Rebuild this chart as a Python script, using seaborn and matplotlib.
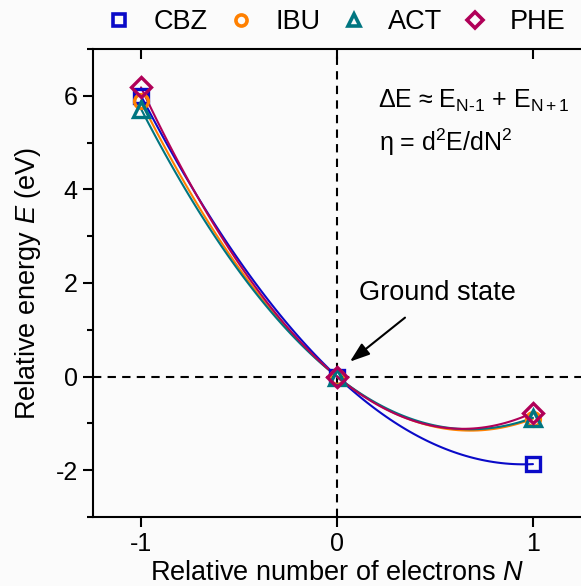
import matplotlib
matplotlib.use("Agg")
import matplotlib.pyplot as plt
from matplotlib.lines import Line2D
import seaborn as sns
import pandas as pd

# ---- data ----
N_values = [-1, 0, 1]
CBZ = [6.00, 0.0, -1.87]
IBU = [5.88, 0.0, -0.90]
ACT = [5.72, 0.0, -0.88]
PHE = [6.18, 0.0, -0.77]
series_names = ["CBZ", "IBU", "ACT", "PHE"]
series_values = [CBZ, IBU, ACT, PHE]
x_ticks = [-1, 0, 1]
y_ticks = [-2, 0, 2, 4, 6]

colors = {"CBZ": "#0a0ac8", "IBU": "#ff8000", "ACT": "#007580", "PHE": "#b00058"}
markers = {"CBZ": "s", "IBU": "o", "ACT": "^", "PHE": "D"}
msize = {"CBZ": 10, "IBU": 10, "ACT": 11, "PHE": 10.5}

sns.set_theme(style="ticks")
plt.rcParams["font.family"] = ["Liberation Sans", "DejaVu Sans"]
plt.rcParams["mathtext.fontset"] = "custom"
plt.rcParams["mathtext.rm"] = "Liberation Sans"
plt.rcParams["mathtext.it"] = "Liberation Sans:italic"
plt.rcParams["mathtext.bf"] = "Liberation Sans:bold"
for k in ["text.color", "axes.labelcolor", "xtick.color", "ytick.color", "axes.edgecolor"]:
    plt.rcParams[k] = "black"

FS = 18
FSL = 19.5
bg = "#fbfbfb"
fig = plt.figure(figsize=(5.81, 5.86), dpi=100, facecolor=bg)
ax = fig.add_axes([93 / 581, (586 - 517) / 586, 1 - 93 / 581, (517 - 49) / 586])
ax.set_facecolor(bg)

df = pd.DataFrame({
    "N": N_values * len(series_names),
    "E": [v for vals in series_values for v in vals],
    "mol": [n for n in series_names for _ in N_values],
})

ax.axvline(0, color="black", ls=(0, (4, 3)), lw=1.5, zorder=1)
ax.axhline(0, color="black", ls=(0, (4, 3)), lw=1.5, zorder=1)

for name in series_names:
    sub = df[df["mol"] == name]
    sns.regplot(data=sub, x="N", y="E", order=2, ci=None, scatter=False,
                truncate=True, ax=ax, line_kws=dict(color=colors[name], lw=1.5, zorder=2))

for i, name in enumerate(series_names):
    sub = df[df["mol"] == name]
    ax.plot(sub["N"], sub["E"], ls="none", marker=markers[name], ms=msize[name],
            mfc="none", mec=colors[name], mew=2.4, zorder=3 + i)

ax.set_xlim(-1.245, 1.245)
ax.set_ylim(-3, 7)
ax.set_xticks(x_ticks)
ax.set_xticklabels([str(t) for t in x_ticks])
ax.set_yticks(y_ticks)
ax.set_yticklabels([str(t) for t in y_ticks])
ax.set_yticks([-3, -1, 1, 3, 5, 7], minor=True)
ax.tick_params(axis="both", which="major", labelsize=FS, width=1.5, length=7, direction="out", pad=4)
ax.tick_params(axis="y", which="minor", width=1.5, length=4, direction="out")
ax.tick_params(axis="x", which="major", top=True, bottom=True)
for s in ["left", "bottom", "top"]:
    ax.spines[s].set_linewidth(1.5)
    ax.spines[s].set_color("black")
ax.spines["right"].set_visible(False)
ax.spines["top"].set_visible(True)
# top ticks point inward
for tl in ax.xaxis.get_major_ticks():
    tl.tick2line.set_marker(3)  # TICKDOWN
    tl.tick2line.set_markersize(7)

ax.set_xlabel(r"Relative number of electrons $N$", fontsize=FSL, labelpad=3)
ax.set_ylabel(r"Relative energy $E$ (eV)", fontsize=FSL, labelpad=9)

ax.text(0.209, 5.9, r"ΔE ≈ E$_{\mathrm{N\text{-}1}}$ + E$_{\mathrm{N+1}}$", fontsize=18,
        ha="left", va="center")
ax.text(0.212, 5.0, r"η = d$^{\mathrm{2}}$E/dN$^{\mathrm{2}}$", fontsize=18,
        ha="left", va="center")
ax.text(0.515, 1.79, "Ground state", fontsize=FSL, ha="center", va="center")
ax.annotate("", xy=(0.066, 0.32), xytext=(0.347, 1.26),
            arrowprops=dict(arrowstyle="-|>,head_length=1.0,head_width=0.35",
                            lw=1.5, color="black", shrinkA=0, shrinkB=0))

handles = [Line2D([], [], ls="none", marker=markers[n], ms=8, mfc="none",
                  mec=colors[n], mew=2.6) for n in series_names]
fig.legend(handles, series_names, loc="center left", bbox_to_anchor=(106 / 581, 1 - 22 / 586),
           ncol=4, frameon=False, fontsize=FSL, handlelength=0.95, handletextpad=0.8,
           columnspacing=0.75, borderpad=0, borderaxespad=0)

fig.savefig("out.png", dpi=100, facecolor=bg)
